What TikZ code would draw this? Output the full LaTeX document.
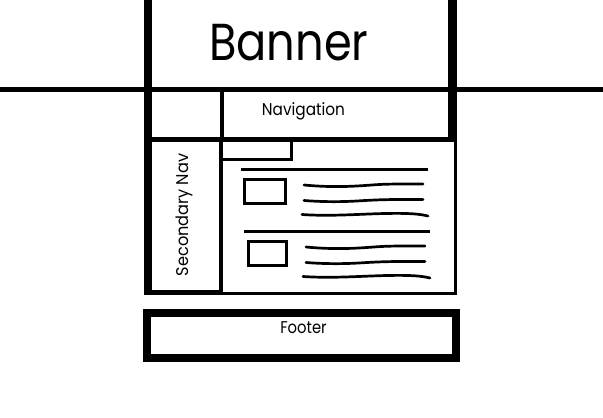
\documentclass[tikz,border=0pt]{standalone}
\usepackage{fontspec}
\setmainfont{Poppins}
\newcommand{\narrowtext}[2]{\scalebox{#1}[1]{#2}}
\begin{document}
\begin{tikzpicture}[x=1pt,y=-1pt,
  thickln/.style={line width=8pt},
  medln/.style={line width=5pt},
  thinln/.style={line width=4pt},
  fineln/.style={line width=3pt},
  txt/.style={inner sep=0pt,font=\fontsize{17}{17}\selectfont},
  wavy/.style={line width=2.7pt,line cap=round}]
\useasboundingbox (0,0) rectangle (603,418);
\fill[white] (0,0) rectangle (603,418);
% banner frame
\draw[thickln] (148,0) -- (148,295);
\draw[line width=9pt] (452.5,0) -- (452.5,142);
\draw[medln] (0,89.5) -- (603,89.5);
\node[inner sep=0pt,font=\fontsize{52}{52}\selectfont,anchor=base] (banner) at (289,60) {\narrowtext{0.86}{Banner}};
% navigation row
\draw[thinln] (221.5,89) -- (221.5,142);
\draw[medln] (148,139.5) -- (452,139.5);
\node[txt,anchor=base] (nav) at (303.5,115) {\narrowtext{0.9}{Navigation}};
% secondary nav
\draw[thinln] (221,139) -- (221,295);
\draw[medln] (144,292.5) -- (223,292.5);
\node[txt,rotate=90] (secnav) at (184,215) {\narrowtext{0.95}{Secondary Nav}};
% content box
\draw[fineln] (455.5,138) -- (455.5,294.5);
\draw[fineln] (221,293) -- (457,293);
\draw[fineln] (223,159) -- (291,159) -- (291,140);
% content block 1
\draw[fineln] (241,169.5) -- (428,169.5);
\draw[fineln] (244.5,179.5) rectangle (285,203.5);
\draw[wavy] (304,185) .. controls (330,187.5) and (350,186.5) .. (365,185.5) .. controls (385,184) .. (423,184);
\draw[wavy] (304,200.5) .. controls (330,202.5) and (350,201.5) .. (365,200.5) .. controls (385,199.5) .. (423,199.5);
\draw[wavy] (302,214.5) .. controls (330,216.5) and (360,214) .. (385,213.5) .. controls (410,213) and (420,214) .. (428,216);
% content block 2
\draw[fineln] (244,231.5) -- (430,231.5);
\draw[fineln] (248.5,241.5) rectangle (286.5,265.5);
\draw[wavy] (306,247) .. controls (332,249.5) and (352,248.5) .. (367,247.5) .. controls (387,246) .. (425,246);
\draw[wavy] (306,262.5) .. controls (332,264.5) and (352,263.5) .. (367,262.5) .. controls (387,261.5) .. (425,261.5);
\draw[wavy] (303,276.5) .. controls (332,278.5) and (362,276) .. (387,275.5) .. controls (412,275) and (422,276) .. (430,278);
% footer
\draw[line width=8pt] (147,313) rectangle (456,357.5);
\node[txt,anchor=base] (footer) at (303.5,333) {\narrowtext{0.87}{Footer}};
\end{tikzpicture}
\end{document}
